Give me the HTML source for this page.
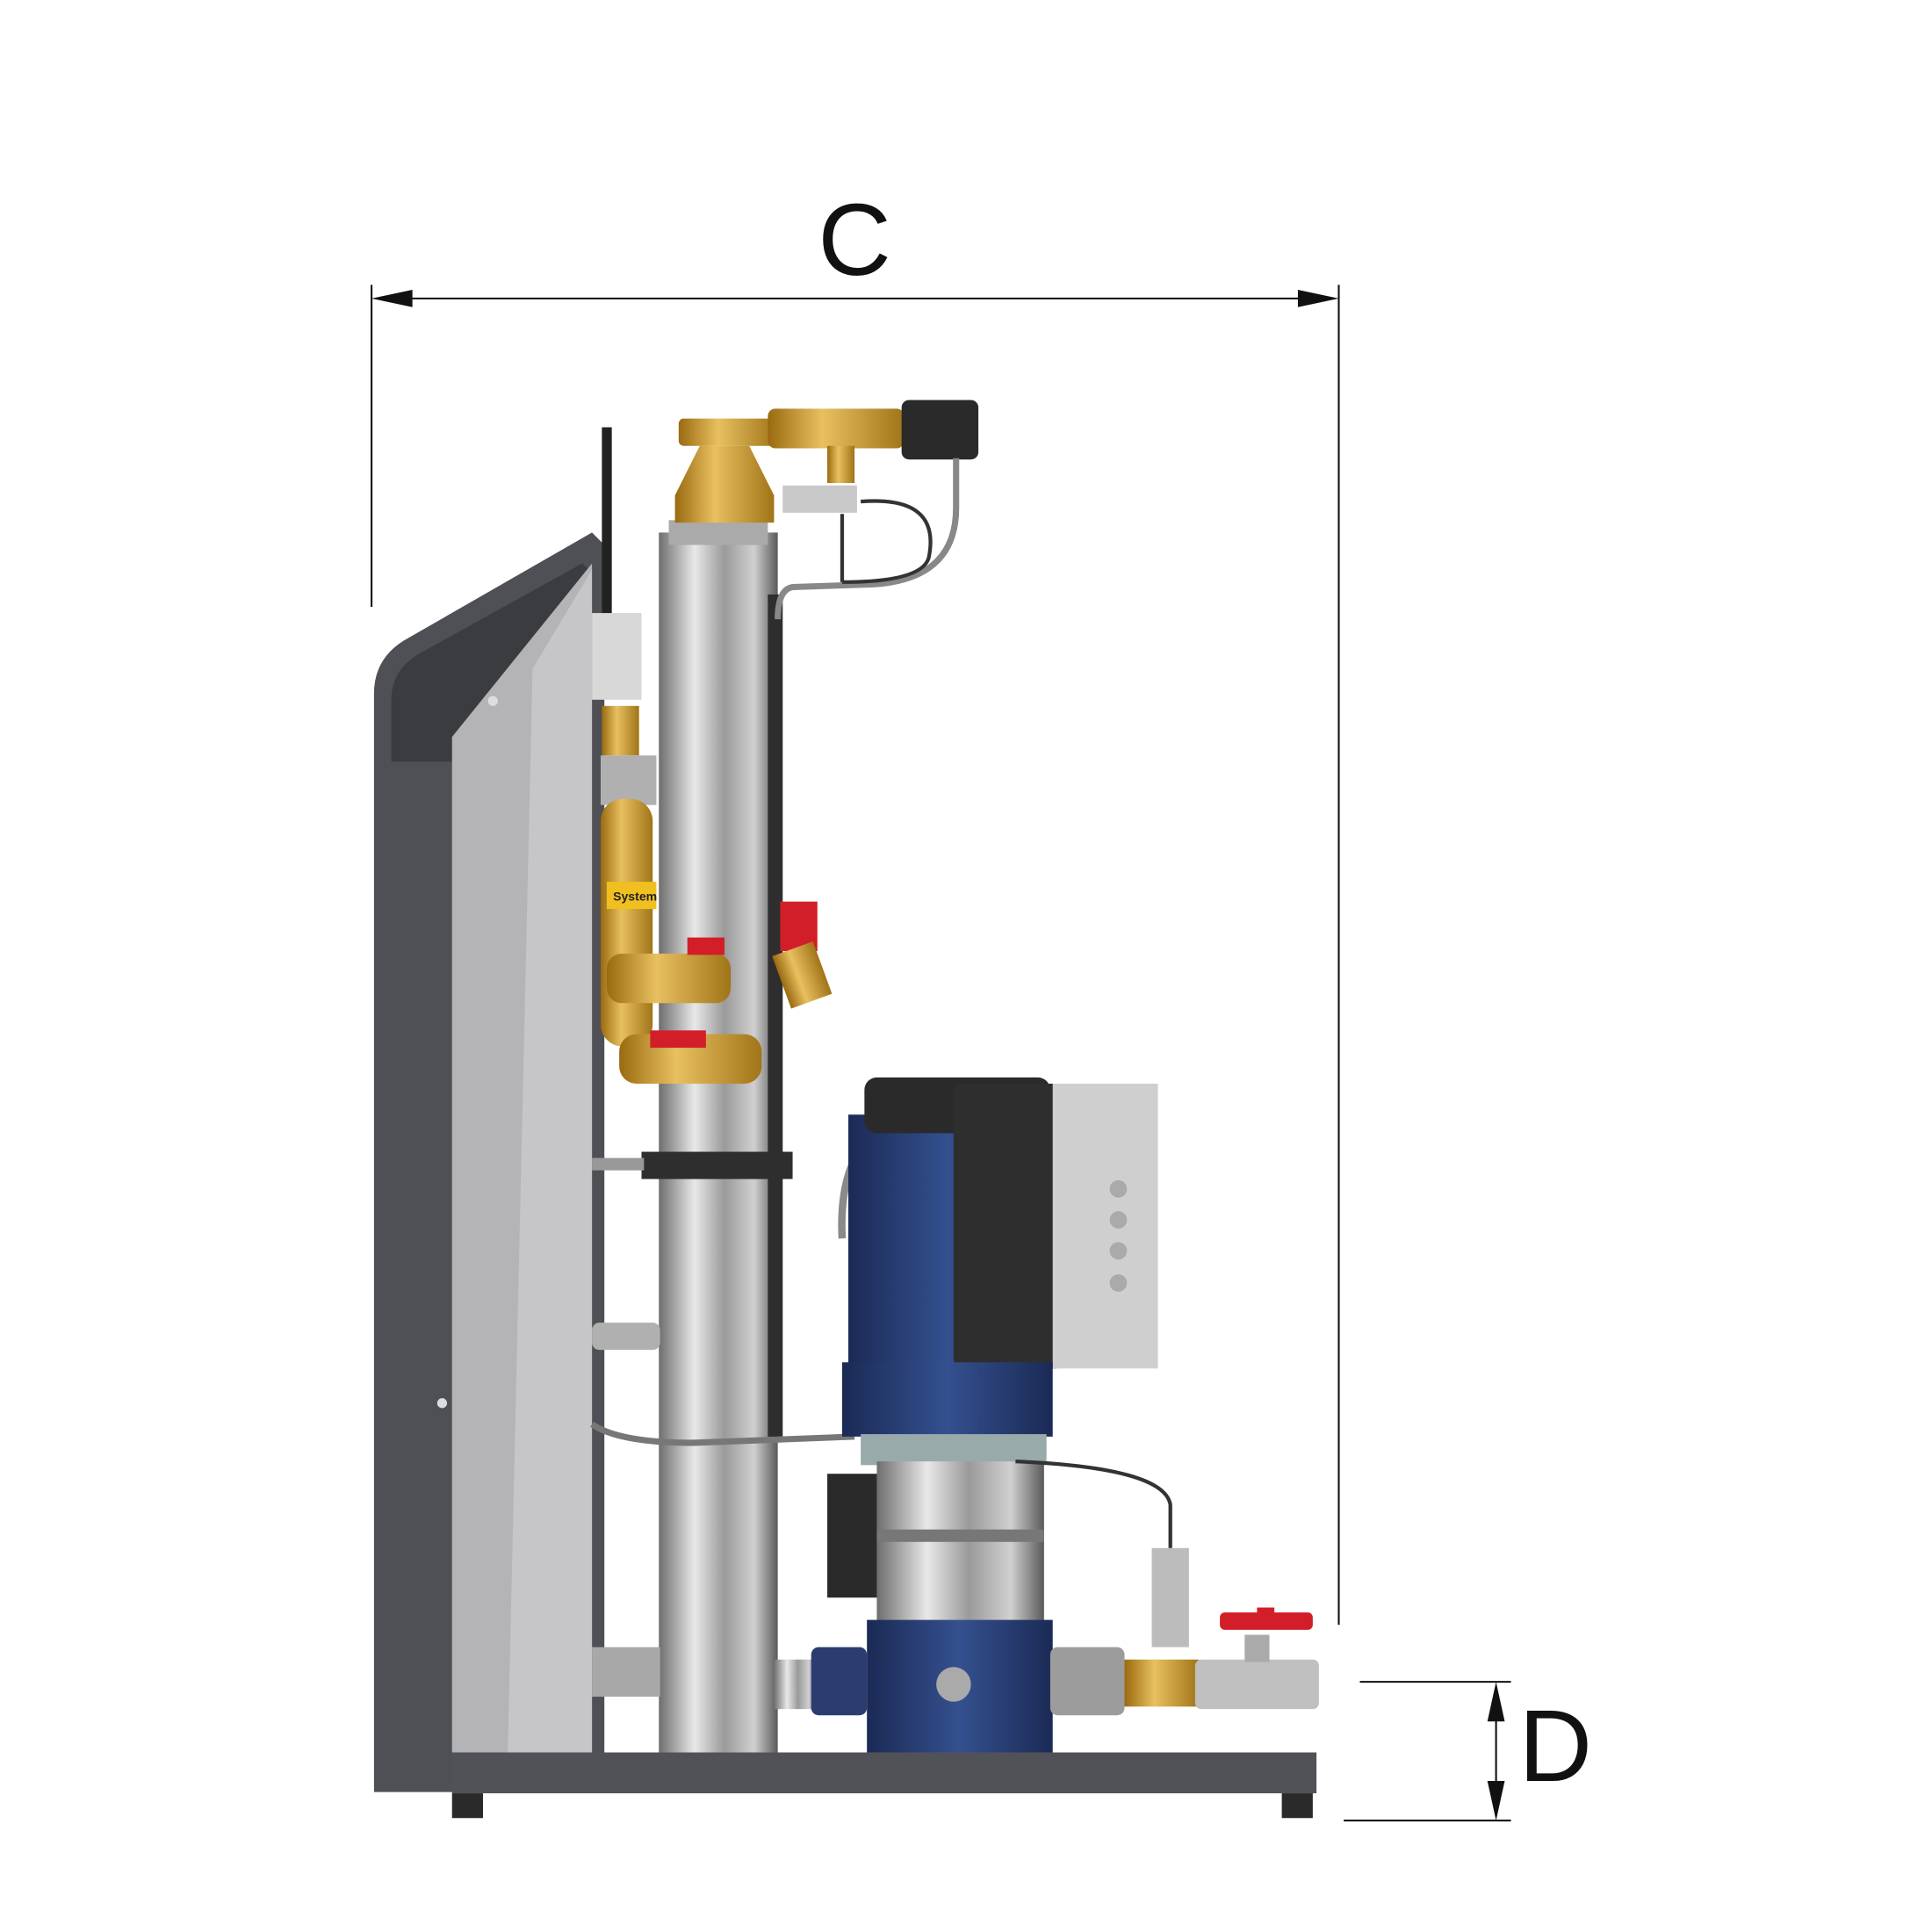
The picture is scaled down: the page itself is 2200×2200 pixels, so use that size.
<!DOCTYPE html>
<html><head><meta charset="utf-8"><style>html,body{margin:0;padding:0;background:#fff}svg{display:block}</style></head>
<body>
<svg width="2200" height="2200" viewBox="0 0 1560 1560" xmlns="http://www.w3.org/2000/svg">
<defs>
<linearGradient id="ss" x1="0" x2="1"><stop offset="0" stop-color="#6e6e6e"/><stop offset="0.3" stop-color="#e8e8e8"/><stop offset="0.55" stop-color="#9a9a9a"/><stop offset="0.8" stop-color="#d0d0d0"/><stop offset="1" stop-color="#5a5a5a"/></linearGradient>
<linearGradient id="br" x1="0" x2="1"><stop offset="0" stop-color="#9a6a10"/><stop offset="0.4" stop-color="#e8c060"/><stop offset="1" stop-color="#a07418"/></linearGradient>
<linearGradient id="bl" x1="0" x2="1"><stop offset="0" stop-color="#1b2a55"/><stop offset="0.5" stop-color="#34508f"/><stop offset="1" stop-color="#1b2a55"/></linearGradient>
<linearGradient id="brv" x1="0" y1="0" x2="0" y2="1"><stop offset="0" stop-color="#e8c060"/><stop offset="1" stop-color="#9a6a10"/></linearGradient>
</defs>
<!-- dimension C -->
<g stroke="#111" stroke-width="1.5" fill="none">
<line x1="300" y1="230" x2="300" y2="490"/>
<line x1="1081" y1="230" x2="1081" y2="1312"/>
<line x1="304" y1="241" x2="1077" y2="241"/>
<line x1="1098" y1="1358" x2="1220" y2="1358"/>
<line x1="1085" y1="1470" x2="1220" y2="1470"/>
<line x1="1208" y1="1362" x2="1208" y2="1466"/>
</g>
<polygon points="300,241 333,234 333,248" fill="#111"/>
<polygon points="1081,241 1048,234 1048,248" fill="#111"/>
<polygon points="1208,1358 1201,1390 1215,1390" fill="#111"/>
<polygon points="1208,1470 1201,1438 1215,1438" fill="#111"/>
<text x="690" y="222" font-family="Liberation Sans, sans-serif" font-size="82" text-anchor="middle" fill="#111">C</text>
<text x="1256" y="1438" font-family="Liberation Sans, sans-serif" font-size="82" text-anchor="middle" fill="#111">D</text>
<!-- cabinet -->
<path d="M302,1447 L302,560 Q302,530 330,515 L478,430 L488,440 L488,1447 Z" fill="#4e5055"/>
<path d="M316,615 L316,565 Q316,540 340,527 L470,455 L478,462 L478,615 Z" fill="#3a3c40"/>
<path d="M365,595 L478,455 L478,1415 L365,1415 Z" fill="#b4b4b6"/>
<path d="M430,540 L478,460 L478,1415 L410,1415 Z" fill="#c6c6c8"/>
<circle cx="398" cy="566" r="4" fill="#ddd"/><circle cx="357" cy="1133" r="4" fill="#ddd"/>
<!-- antenna -->
<rect x="486" y="345" width="8" height="215" fill="#222"/>
<rect x="478" y="495" width="40" height="70" fill="#d8d8d8"/>
<!-- base -->
<rect x="365" y="1415" width="698" height="33" fill="#505258"/>
<rect x="365" y="1448" width="25" height="20" fill="#2a2a2a"/><rect x="1035" y="1448" width="25" height="20" fill="#2a2a2a"/>
<!-- column -->
<rect x="532" y="430" width="96" height="985" fill="url(#ss)"/>
<rect x="540" y="420" width="80" height="20" fill="#aaa"/>
<rect x="620" y="480" width="12" height="680" fill="#2e2e2e"/>
<rect x="518" y="930" width="122" height="22" fill="#2e2e2e"/>
<!-- brass top -->
<polygon points="565,360 605,360 625,400 625,422 545,422 545,400" fill="url(#br)"/>
<rect x="548" y="338" width="80" height="22" rx="4" fill="url(#br)"/>
<rect x="620" y="330" width="110" height="32" rx="6" fill="url(#br)"/>
<rect x="668" y="360" width="22" height="30" fill="url(#br)"/>
<rect x="632" y="392" width="60" height="22" fill="#c8c8c8"/>
<rect x="728" y="323" width="62" height="48" rx="6" fill="#2a2a2a"/>
<path d="M772,370 L772,410 Q772,470 700,472 L640,474 Q628,476 628,500" stroke="#888" stroke-width="5" fill="none"/>
<path d="M695,405 Q760,400 750,450 Q745,470 680,470" stroke="#333" stroke-width="3" fill="none"/>
<path d="M680,415 L680,470" stroke="#333" stroke-width="3"/>
<!-- left brass assembly -->
<rect x="486" y="570" width="30" height="40" fill="url(#br)"/>
<rect x="485" y="610" width="45" height="40" fill="#b0b0b0"/>
<rect x="485" y="645" width="42" height="200" rx="18" fill="url(#br)"/>
<rect x="490" y="712" width="40" height="22" fill="#f0c020"/>
<text x="495" y="727" font-family="Liberation Sans, sans-serif" font-size="10" font-weight="bold" fill="#222">System</text>
<rect x="490" y="770" width="100" height="40" rx="12" fill="url(#br)"/>
<rect x="500" y="835" width="115" height="40" rx="14" fill="url(#br)"/>
<rect x="555" y="757" width="30" height="14" fill="#d21e28"/>
<rect x="525" y="832" width="45" height="14" fill="#d21e28"/>
<rect x="630" y="728" width="30" height="40" fill="#d21e28"/>
<rect x="630" y="765" width="35" height="45" fill="url(#br)" transform="rotate(-20 647 787)"/>
<rect x="478" y="935" width="42" height="10" fill="#999"/>
<rect x="478" y="1068" width="55" height="22" rx="6" fill="#b0b0b0"/>
<path d="M478,1150 Q500,1165 560,1165 L690,1160" stroke="#777" stroke-width="5" fill="none"/>
<rect x="478" y="1330" width="55" height="40" fill="#a8a8a8"/>
<!-- pump -->
<path d="M680,1000 Q675,900 760,895" stroke="#8a8a8a" stroke-width="6" fill="none"/>
<rect x="685" y="900" width="160" height="210" fill="url(#bl)"/>
<rect x="698" y="870" width="150" height="45" rx="10" fill="#2a2a2a"/>
<rect x="770" y="875" width="90" height="230" rx="8" fill="#2e2e2e"/>
<rect x="850" y="875" width="85" height="230" fill="#cfcfcf"/>
<circle cx="903" cy="960" r="7" fill="#aaa"/><circle cx="903" cy="985" r="7" fill="#aaa"/><circle cx="903" cy="1010" r="7" fill="#aaa"/><circle cx="903" cy="1036" r="7" fill="#aaa"/>
<rect x="680" y="1100" width="170" height="60" fill="url(#bl)"/>
<rect x="695" y="1158" width="150" height="25" fill="#9aa"/>
<rect x="668" y="1190" width="40" height="100" fill="#2a2a2a"/>
<rect x="708" y="1180" width="135" height="130" fill="url(#ss)"/>
<rect x="708" y="1235" width="135" height="10" fill="#777"/>
<rect x="700" y="1308" width="150" height="107" fill="url(#bl)"/>
<circle cx="770" cy="1360" r="14" fill="#aaa"/>
<path d="M820,1180 Q940,1185 945,1215 L945,1250" stroke="#333" stroke-width="3" fill="none"/>
<!-- horizontal pipe -->
<rect x="625" y="1340" width="35" height="40" fill="url(#ss)"/>
<rect x="655" y="1330" width="45" height="55" rx="6" fill="#2b3d70"/>
<rect x="848" y="1330" width="60" height="55" rx="6" fill="#9c9c9c"/>
<rect x="908" y="1340" width="60" height="38" fill="url(#br)"/>
<rect x="930" y="1250" width="30" height="80" fill="#bcbcbc"/>
<rect x="965" y="1340" width="100" height="40" rx="5" fill="#c0c0c0"/>
<rect x="1005" y="1320" width="20" height="22" fill="#aaa"/>
<rect x="985" y="1302" width="75" height="14" rx="4" fill="#d21e28"/>
<rect x="1015" y="1298" width="14" height="16" fill="#d21e28"/>
</svg>
</body></html>
